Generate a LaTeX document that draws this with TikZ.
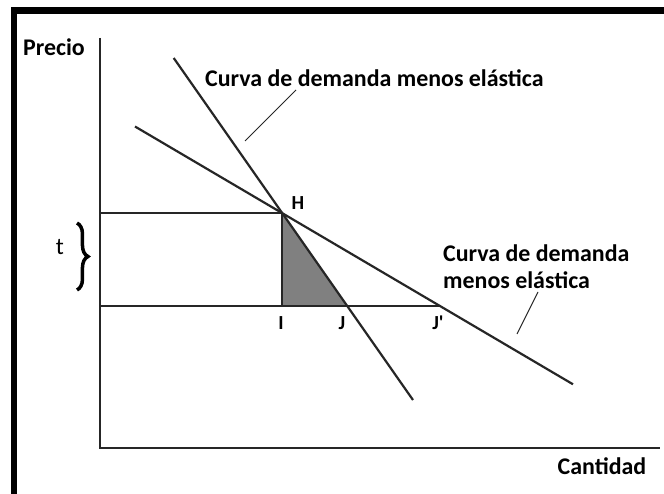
\documentclass[tikz,border=0pt]{standalone}
\usepackage{fontspec}
\setmainfont{Carlito}
\usetikzlibrary{decorations.pathreplacing}
\tikzset{
  axis/.style={line width=2pt, draw=black!85},
  curve/.style={line width=2.2pt, draw=black!85},
  guide/.style={line width=2pt, draw=black!85},
  leader/.style={line width=1pt, draw=black!85},
  lbl/.style={font=\fontsize{24}{27}\selectfont\bfseries, inner sep=0pt},
  ptlbl/.style={font=\fontsize{20}{22}\selectfont\bfseries, inner sep=0pt}
}
\begin{document}
\begin{tikzpicture}[x=1bp, y=-1bp]
\useasboundingbox (0,0) rectangle (664,494);
\fill[white] (0,0) rectangle (664,494);
% frame
\fill[black] (11,7) rectangle (664,14);
\fill[black] (11,7) rectangle (17,494);
% points
\coordinate (O) at (100,448);
\coordinate (Ytop) at (100,38);
\coordinate (Xend) at (660,448);
\coordinate (H) at (282,213);
\coordinate (I) at (282,306);
\coordinate (J) at (347,306);
\coordinate (Jp) at (440,306);
\coordinate (HL) at (100,213);
\coordinate (IL) at (100,306);
\coordinate (S1) at (173.7,58);
\coordinate (S2) at (413,400);
\coordinate (F1) at (135,126.5);
\coordinate (F2) at (573,384.3);
% shaded triangle
\fill[black!50] (H) -- (I) -- (J) -- cycle;
% axes
\draw[axis] (Ytop) -- (O) -- (Xend);
% guides
\draw[guide] (HL) -- (H) -- (I);
\draw[guide] (IL) -- (Jp);
% demand curves
\draw[curve] (S1) -- (S2);
\draw[curve] (F1) -- (F2);
% labels
\node[lbl] (precio) at (54,47) {Precio};
\node[lbl] (cantidad) at (602,466) {Cantidad};
\node[ptlbl] (hl) at (298,203) {H};
\node[ptlbl] (il) at (281,323) {I};
\node[ptlbl] (jl) at (342,323) {J};
\node[ptlbl] (jpl) at (438,323) {J\textquotesingle};
\node[font=\fontsize{24}{26}\selectfont, inner sep=0pt] (t) at (60,247) {t};
\draw[line width=3.5pt, decorate, decoration={brace, amplitude=11pt}] (77,223) -- (77,290);
\node[lbl, anchor=west] (top) at (205,78) {Curva de demanda menos elástica};
\node[lbl, anchor=west, align=left] (right) at (443,267) {Curva de demanda\\menos elástica};
\coordinate (tl1) at (245,141);
\coordinate (tl2) at (296,90);
\draw[leader] (tl1) -- (tl2);
\coordinate (rl1) at (538,292);
\coordinate (rl2) at (517,334);
\draw[leader] (rl1) -- (rl2);
\end{tikzpicture}
\end{document}
